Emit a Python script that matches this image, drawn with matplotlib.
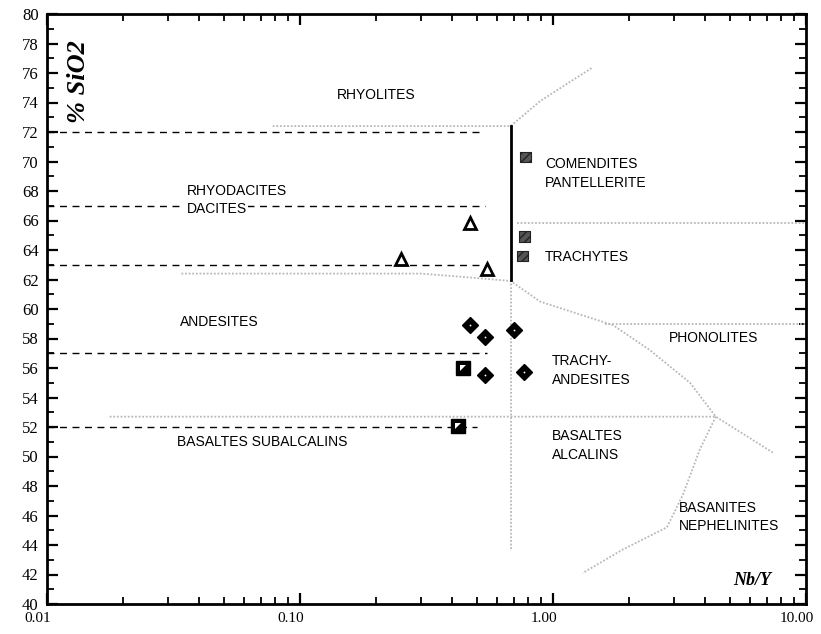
import matplotlib
matplotlib.use("Agg")
import matplotlib.pyplot as plt
import matplotlib.transforms as mtransforms
from matplotlib.ticker import MultipleLocator, LogLocator, NullFormatter

# sample points (Nb/Y, SiO2 %)
tri_x = [0.25, 0.47, 0.55]
tri_y = [63.4, 65.8, 62.7]
dia_x = [0.47, 0.54, 0.70, 0.54, 0.77]
dia_y = [58.9, 58.1, 58.6, 55.5, 55.7]
sq_x = [0.44, 0.42]
sq_y = [56.0, 52.1]
hat_x = [0.78, 0.77, 0.76]
hat_y = [70.3, 64.9, 63.6]

# dashed boundaries on the subalkaline side
dash_levels = [72, 67, 63, 57, 52]
dash_ends = [0.51, 0.54, 0.51, 0.55, 0.50]

# grey field boundaries
top_x = [0.078, 0.68, 0.89, 1.44]
top_y = [72.4, 72.4, 74.1, 76.4]
and_x = [0.034, 0.30, 0.50, 0.68, 0.89, 1.73, 2.42, 3.48, 4.4]
and_y = [62.4, 62.4, 62.1, 61.9, 60.5, 58.9, 57.2, 55.0, 52.7]
bas_x = [0.0177, 4.4, 7.5]
bas_y = [52.7, 52.7, 50.2]
neph_x = [4.4, 3.81, 3.26, 2.82, 1.89, 1.31]
neph_y = [52.7, 50.5, 47.4, 45.2, 43.7, 42.1]
trach_x = [0.72, 10.0]
trach_y = [65.8, 65.8]
phon_x = [1.6, 10.0]
phon_y = [59.0, 59.0]
split_x = 0.68
split_top, split_mid, split_bot = 72.4, 62.0, 43.6

labels = [
    ("RHYOLITES", 0.140, 74.5),
    ("RHYODACITES", 0.0357, 68.0),
    ("COMENDITES\nPANTELLERITE", 0.93, 69.2),
    ("TRACHYTES", 0.93, 63.5),
    ("ANDESITES", 0.0336, 59.1),
    ("PHONOLITES", 2.87, 58.0),
    ("TRACHY-\nANDESITES", 0.99, 55.85),
    ("BASALTES SUBALCALINS", 0.0326, 51.0),
    ("BASALTES\nALCALINS", 0.99, 50.75),
    ("BASANITES\nNEPHELINITES", 3.15, 45.9),
]

fig = plt.figure(figsize=(8.21, 6.34), dpi=100)
ax = fig.add_axes([47/821, 1 - 604/634, 759/821, 590/634])
ax.set_xscale("log")
ax.set_xlim(0.01, 10)
ax.set_ylim(40, 80)

grey = dict(color="#b8b8b8", lw=1.3, ls=(0, (1, 1)))
ax.plot(top_x, top_y, **grey)
ax.plot(and_x, and_y, **grey)
ax.plot(bas_x, bas_y, **grey)
ax.plot(neph_x, neph_y, **grey)
ax.plot(trach_x, trach_y, **grey)
ax.plot(phon_x, phon_y, **grey)
ax.plot([split_x, split_x], [split_mid, split_bot], **grey)
ax.plot([split_x, split_x], [split_top, split_mid], color="black", lw=2)

for lev, end in zip(dash_levels, dash_ends):
    ax.plot([0.01, end], [lev, lev], color="black", lw=1, ls=(0, (5, 4)))

for txt, x, y in labels:
    ax.text(x, y, txt, fontsize=10, family="Liberation Sans", ha="left",
            va="center", linespacing=1.45)
ax.text(0.0357, 66.8, "DACITES", fontsize=10, family="Liberation Sans",
        ha="left", va="center",
        bbox=dict(facecolor="white", edgecolor="none", pad=1))

ax.plot(tri_x, tri_y, ls="none", marker="^", ms=8, mfc="white", mec="black", mew=2)
ax.plot(dia_x, dia_y, ls="none", marker="D", ms=8, color="black")
ax.plot(dia_x, dia_y, ls="none", marker="o", ms=1.3, color="white", mew=0)
ax.plot(sq_x, sq_y, ls="none", marker="s", ms=10, color="black")
ax.plot(sq_x, sq_y, ls="none", marker=[(-1, -1), (-1, 1), (1, 1)], ms=5, color="white", mew=0)
ax.scatter(hat_x, hat_y, marker="s", s=60, facecolor="#555555", edgecolor="#222222",
           hatch="////", linewidths=0.8, zorder=3)

ax.text(0.041, 0.886, "% SiO2", transform=ax.transAxes, rotation=90,
        fontsize=19, family="Liberation Serif", weight="bold", style="italic",
        ha="center", va="center")
ax.text(0.929, 0.039, "Nb/Y", transform=ax.transAxes, fontsize=13,
        family="Liberation Serif", weight="bold", style="italic",
        ha="center", va="center")

ax.set_xticks([0.01, 0.1, 1, 10])
ax.set_xticklabels(["0.01", "0.10", "1.00", "10.00"])
ax.xaxis.set_minor_locator(LogLocator(base=10, subs=range(2, 10)))
ax.xaxis.set_minor_formatter(NullFormatter())
ax.set_yticks(range(40, 81, 2))
ax.yaxis.set_minor_locator(MultipleLocator(1))
ax.tick_params(which="both", direction="in", top=True, right=True,
               labelsize=12, pad=6)
ax.tick_params(axis="x", labelsize=11)
ax.tick_params(which="major", length=8, width=1.6)
ax.tick_params(which="minor", length=5, width=1.3)
shift = mtransforms.ScaledTranslation(-9/100, 0, fig.dpi_scale_trans)
for lab in ax.get_xticklabels():
    lab.set_family("Liberation Serif")
    lab.set_transform(lab.get_transform() + shift)
for lab in ax.get_yticklabels():
    lab.set_family("Liberation Serif")
for sp in ax.spines.values():
    sp.set_linewidth(2)

fig.savefig("out.png", dpi=100)
